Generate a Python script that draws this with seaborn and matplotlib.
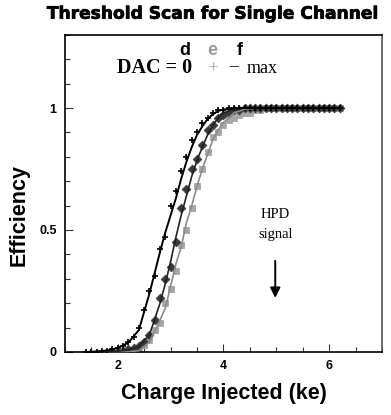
#importing libraries
import numpy as np
import pandas as pd
import seaborn as sb
import matplotlib.pyplot as plt
import matplotlib.patheffects as pe
from matplotlib.ticker import MultipleLocator

# fitted curves
fit_x = [1.4, 1.6, 1.8, 2.0, 2.2, 2.4, 2.6, 2.8, 2.9, 3.0, 3.1, 3.2, 3.3, 3.4, 3.5,
         3.6, 3.7, 3.8, 3.9, 4.0, 4.2, 4.4, 4.6, 5.0, 5.5, 6.0, 6.2]
fit_d = [0.0, 0.002, 0.006, 0.016, 0.038, 0.09, 0.24, 0.41, 0.49, 0.56, 0.63, 0.71, 0.78, 0.84, 0.89,
         0.925, 0.955, 0.975, 0.988, 0.994, 0.998, 1.0, 1.0, 1.0, 1.0, 1.0, 1.0]
fit_f = [0.0, 0.0, 0.0, 0.003, 0.008, 0.022, 0.07, 0.2, 0.28, 0.37, 0.47, 0.56, 0.64, 0.72, 0.785,
         0.84, 0.89, 0.93, 0.96, 0.98, 0.995, 1.0, 1.0, 1.0, 1.0, 1.0, 1.0]
fit_e = [0.0, 0.0, 0.0, 0.0, 0.0, 0.005, 0.04, 0.13, 0.18, 0.27, 0.36, 0.43, 0.53, 0.6, 0.68,
         0.75, 0.81, 0.87, 0.91, 0.94, 0.98, 0.995, 1.0, 1.0, 1.0, 1.0, 1.0]

# measured points
pts_x = [1.4, 1.5, 1.6, 1.7, 1.8, 1.9, 2.0, 2.1, 2.2, 2.3, 2.4, 2.5, 2.6, 2.7, 2.8, 2.9,
         3.0, 3.1, 3.2, 3.3, 3.4, 3.5, 3.6, 3.7, 3.8, 3.9, 4.0, 4.1, 4.2, 4.3, 4.4, 4.5,
         4.6, 4.7, 4.8, 4.9, 5.0, 5.1, 5.2, 5.3, 5.4, 5.5, 5.6, 5.7, 5.8, 5.9, 6.0, 6.1, 6.2]
pts_d = [0.0, 0.0, 0.0, 0.005, 0.005, 0.01, 0.015, 0.025, 0.04, 0.06, 0.1, 0.17, 0.25, 0.31, 0.42, 0.47,
         0.6, 0.66, 0.74, 0.8, 0.87, 0.9, 0.94, 0.96, 0.98, 0.99, 0.99, 1.0, 1.0, 1.0, 1.0, 1.0,
         1.0, 1.0, 1.0, 1.0, 1.0, 1.0, 1.0, 1.0, 1.0, 1.0, 1.0, 1.0, 1.0, 1.0, 1.0, 1.0, 1.0]
pts_f = [None, None, None, None, None, 0.0, 0.0, 0.005, 0.01, 0.015, 0.025, 0.04, 0.07, 0.13, 0.22, 0.3,
         0.35, 0.45, 0.59, 0.67, 0.75, 0.79, 0.85, 0.91, 0.93, 0.96, 0.97, 0.98, 0.99, 0.99, 1.0, 1.0,
         1.0, 1.0, 1.0, 1.0, 1.0, 1.0, 1.0, 1.0, 1.0, 1.0, 1.0, 1.0, 1.0, 1.0, 1.0, 1.0, 1.0]
pts_e = [None, None, None, None, None, None, None, None, None, 0.0, 0.01, 0.03, 0.05, 0.09, 0.12, 0.2,
         0.26, 0.33, 0.44, 0.5, 0.59, 0.68, 0.75, 0.82, 0.88, 0.9, 0.93, 0.95, 0.96, 0.97, 0.98, 0.98,
         0.99, 0.99, 1.0, 1.0, 1.0, 1.0, 1.0, 1.0, 1.0, 1.0, 1.0, 1.0, 1.0, 1.0, 1.0, 1.0, 1.0]

fits = pd.DataFrame({'x': fit_x, 'd': fit_d, 'f': fit_f, 'e': fit_e})
pts = pd.DataFrame({'x': pts_x, 'd': pts_d, 'f': pts_f, 'e': pts_e}).astype(float)

sb.set_style('ticks')
plt.rcParams['font.family'] = ['Liberation Sans', 'DejaVu Sans']
plt.rcParams['text.color'] = 'black'
plt.rcParams['xtick.color'] = 'black'
plt.rcParams['ytick.color'] = 'black'

fig = plt.figure(figsize=(3.91, 4.15), dpi=100)
ax = fig.add_axes([0.166, 0.152, 0.811, 0.764])

#points
sb.scatterplot(x='x', y='e', data=pts, ax=ax, marker='s', s=22, color='#a6a6a6', edgecolor='#a6a6a6', linewidth=0.6, zorder=2)
sb.scatterplot(x='x', y='f', data=pts, ax=ax, marker='D', s=20, color='#3a3a3a', edgecolor='#3a3a3a', linewidth=0.5, zorder=3)
sb.scatterplot(x='x', y='d', data=pts, ax=ax, marker='+', s=24, color='black', linewidth=1.2, zorder=4)

#fits
sb.lineplot(x='x', y='e', data=fits, ax=ax, color='#8c8c8c', linewidth=1.2, zorder=5)
sb.lineplot(x='x', y='f', data=fits, ax=ax, color='#222222', linewidth=1.2, zorder=5)
sb.lineplot(x='x', y='d', data=fits, ax=ax, color='black', linewidth=1.4, zorder=6)

ax.set_xlim(1, 7)
ax.set_ylim(0, 1.3)
ax.set_xticks([2, 4, 6])
ax.set_xticklabels(['2', '4', '6'], fontweight='bold', fontsize=9)
ax.set_yticks([0, 0.5, 1])
ax.set_yticklabels(['0', '0.5', '1'], fontweight='bold', fontsize=9)
ax.xaxis.set_minor_locator(MultipleLocator(0.5))
ax.yaxis.set_minor_locator(MultipleLocator(0.1))
ax.tick_params(which='both', direction='in', top=False, right=False, width=0.8, color='#333333')
ax.tick_params(which='major', length=6, pad=6)
ax.tick_params(which='minor', length=3.5)
for s in ax.spines.values():
    s.set_linewidth(1.2)
    s.set_color('black')
ax.spines['right'].set_color('#555555')
ax.set_xlabel('')
ax.set_ylabel('')

#legend text
ax.text(3.27, 1.235, 'd', fontsize=13, fontweight='bold', ha='center', va='center')
ax.text(3.79, 1.235, 'e', fontsize=13, fontweight='bold', color='#9a9a9a', ha='center', va='center')
ax.text(4.3, 1.235, 'f', fontsize=13, fontweight='bold', ha='center', va='center')
ax.text(2.7, 1.163, 'DAC = 0', fontsize=14.5, fontweight='bold', family='Liberation Serif', ha='center', va='center')
ax.text(3.8, 1.163, '+', fontsize=12, color='#9a9a9a', family='Liberation Serif', ha='center', va='center')
ax.text(4.2, 1.168, '\u2013', fontsize=13, family='Liberation Serif', ha='center', va='center')
ax.text(4.74, 1.163, 'max', fontsize=13, family='Liberation Serif', ha='center', va='center')

#HPD signal
ax.text(4.98, 0.565, 'HPD', fontsize=10.5, family='Liberation Serif', ha='center', va='center')
ax.text(4.98, 0.48, 'signal', fontsize=10.5, family='Liberation Serif', ha='center', va='center')
ax.annotate('', xy=(4.98, 0.21), xytext=(4.98, 0.385),
            arrowprops=dict(arrowstyle='-|>', color='black', lw=1.4, mutation_scale=15))

fig.text(0.545, 0.967, 'Threshold Scan for Single Channel', fontsize=12.3, fontweight='heavy',
         family='DejaVu Sans', ha='center', va='center',
         path_effects=[pe.withStroke(linewidth=0.5, foreground='black')])
fig.text(0.572, 0.053, 'Charge Injected (ke)', fontsize=15.5, fontweight='bold', ha='center', va='center')
fig.text(0.050, 0.483, 'Efficiency', fontsize=15.5, fontweight='bold', rotation=90, ha='center', va='center')

plt.savefig('out.png', dpi=100)
